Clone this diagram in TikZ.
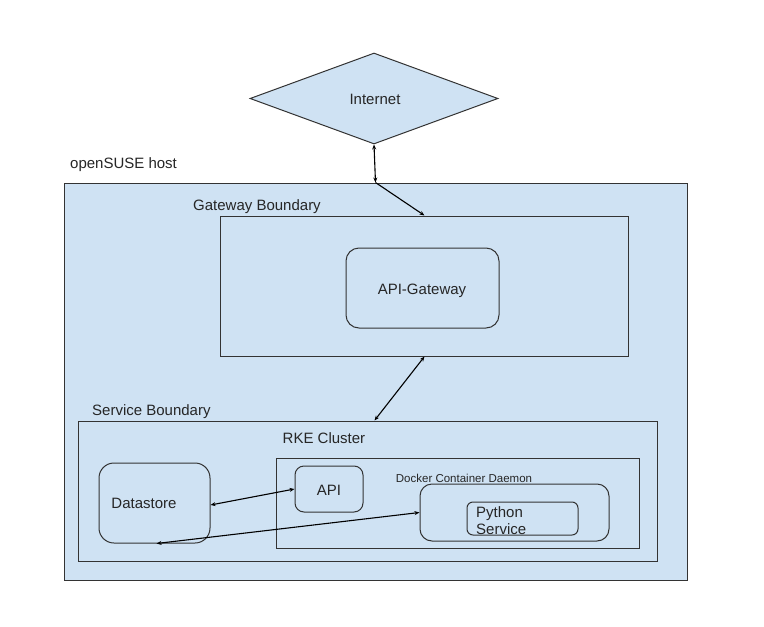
\documentclass[tikz,border=0pt]{standalone}
\usepackage{fontspec}
\setmainfont{Liberation Sans}
\usetikzlibrary{shapes.geometric,arrows.meta}
\definecolor{paneblue}{HTML}{CFE2F3}
\definecolor{edge}{HTML}{333333}
\tikzset{
  box/.style={draw=edge, fill=paneblue, line width=1pt, rectangle, inner sep=0pt},
  rbox/.style={box, rounded corners=#1},
  lbl/.style={font=\fontsize{15}{17}\selectfont, inner sep=0pt, text=black!85, text height=10.8pt, text depth=0pt},
  small/.style={font=\fontsize{11.5}{13}\selectfont, inner sep=0pt, text=black!85},
  link/.style={draw=black, line width=1.1pt, {Stealth[length=5pt,width=4pt]}-{Stealth[length=5pt,width=4pt]}},
  onelink/.style={draw=black, line width=1.1pt, -{Stealth[length=5pt,width=4pt]}},
}
\begin{document}
\begin{tikzpicture}[x=1pt,y=-1pt]
\useasboundingbox (0,0) rectangle (764,627);
\fill[white] (0,0) rectangle (764,627);

% Internet
\node[box, diamond, minimum width=248pt, minimum height=91pt, aspect=2.7] (inet) at (374,98.5) {};
\node[lbl] (inettxt) at (375,99) {Internet};

% host
\node[lbl, anchor=west] (hostlbl) at (70,163) {openSUSE host};
\node[box, minimum width=623pt, minimum height=397pt] (host) at (375.5,381.5) {};

% gateway boundary
\node[lbl, anchor=west] (gwlbl) at (193,205) {Gateway Boundary};
\node[box, minimum width=408pt, minimum height=140pt] (gw) at (424,286) {};
\node[rbox=13pt, minimum width=153pt, minimum height=80pt] (apigw) at (422.5,288) {};
\node[lbl] (apigwtxt) at (422,289) {API-Gateway};

% service boundary
\node[lbl, anchor=west] (svclbl) at (92,410) {Service Boundary};
\node[box, minimum width=579pt, minimum height=140pt] (svc) at (367.5,491) {};
\node[lbl] (rketxt) at (324,438) {RKE Cluster};

% datastore
\node[rbox=15pt, minimum width=111pt, minimum height=80pt] (ds) at (154.5,503) {};
\node[lbl] (dstxt) at (144,503) {Datastore};

% docker daemon area
\node[box, minimum width=363pt, minimum height=90pt] (dd) at (457.5,503) {};
\node[rbox=9pt, minimum width=68pt, minimum height=46pt] (api) at (329,489) {};
\node[lbl] (apitxt) at (329,490) {API};
\node[small] (ddtxt) at (464,478) {Docker Container Daemon};
\node[rbox=12pt, minimum width=189pt, minimum height=57pt] (dock) at (514.5,512.5) {};
\node[rbox=6pt, minimum width=111pt, minimum height=33pt] (py) at (522.5,518.5) {};
\node[inner sep=0pt, text=black!85, anchor=north west, align=left, font=\fontsize{15}{17}\selectfont] (pytxt) at (476,506) {Python\\Service};

% connectors
\draw[link] (inet.south) -- (host.north);
\draw[onelink] (host.north) -- ([xshift=205pt]gw.north west);
\draw[link] ([xshift=205pt]gw.south west) -- ([xshift=297pt]svc.north west);
\draw[link] ([yshift=-2pt]ds.east) -- (api.west);
\draw[link] ([xshift=58pt]ds.south west) -- (dock.west);
\end{tikzpicture}
\end{document}
